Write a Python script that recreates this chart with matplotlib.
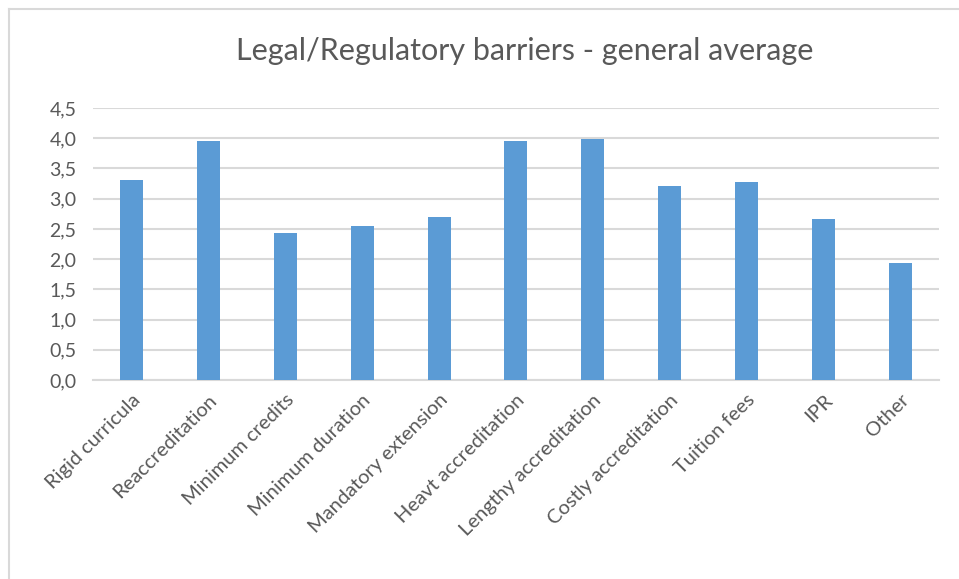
import matplotlib
matplotlib.use("Agg")
import matplotlib.pyplot as plt
from matplotlib.lines import Line2D

# data
categories = ["Rigid curricula", "Reaccreditation", "Minimum credits", "Minimum duration",
              "Mandatory extension", "Heavt accreditation", "Lengthy accreditation",
              "Costly accreditation", "Tuition fees", "IPR", "Other"]
values = [3.31, 3.95, 2.43, 2.54, 2.70, 3.95, 3.99, 3.21, 3.28, 2.67, 1.93]
yticks = [0.0, 0.5, 1.0, 1.5, 2.0, 2.5, 3.0, 3.5, 4.0, 4.5]

plt.rcParams['font.family'] = ['Lato', 'DejaVu Sans']
txt = '#595959'
grid = '#d9d9d9'

fig = plt.figure(figsize=(9.59, 5.79), dpi=100)
ax = fig.add_axes([0.097, 0.3437, 0.882, 0.4698])

x = range(len(categories))
ax.bar(x, values, width=0.3, color='#5b9bd5', zorder=3)

ax.set_xlim(-0.5, len(categories) - 0.5)
ax.set_ylim(0, 4.5)
ax.set_yticks(yticks)
ax.set_yticklabels([f"{v:.1f}".replace('.', ',') for v in yticks], fontsize=14, color=txt)
ax.set_xticks(list(x))
ax.set_xticklabels(categories, rotation=45, ha='right', va='top', rotation_mode='anchor',
                   fontsize=14.5, color=txt)
ax.tick_params(axis='both', length=0, pad=12)
ax.tick_params(axis='x', pad=8)

ax.grid(axis='y', color=grid, linewidth=1.5, zorder=0)
for s in ['top', 'right', 'left']:
    ax.spines[s].set_visible(False)
ax.spines['bottom'].set_color(grid)
ax.spines['bottom'].set_linewidth(1.5)

fig.text(0.547, 0.912, "Legal/Regulatory barriers - general average", ha='center', va='center',
         fontsize=22, color=txt)

# chart border (top and left visible in the crop)
fig.add_artist(Line2D([9/959, 9/959], [0, 1 - 9/579], transform=fig.transFigure,
                      color=grid, linewidth=1.5))
fig.add_artist(Line2D([9/959, 1], [1 - 9/579, 1 - 9/579], transform=fig.transFigure,
                      color=grid, linewidth=1.5))

fig.savefig('out.png', dpi=100)
